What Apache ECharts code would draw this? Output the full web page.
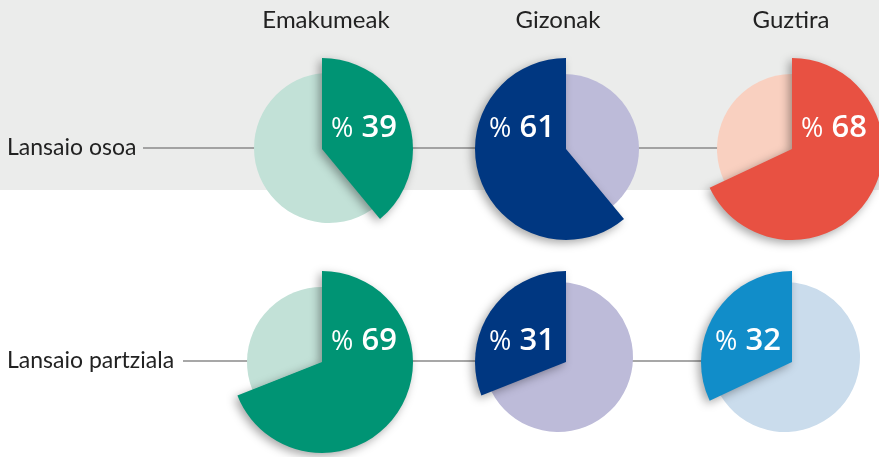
<!DOCTYPE html>
<html>
<head>
<meta charset="utf-8">
<script src="https://cdn.jsdelivr.net/npm/echarts@6/dist/echarts.min.js"></script>
<style>
  html, body { margin: 0; padding: 0; background: #fff; }
  #chart { width: 879px; height: 457px; }
</style>
</head>
<body>
<div id="chart"></div>
<script>
var groups = ["Emakumeak", "Gizonak", "Guztira"];
var rowLabels = ["Lansaio osoa", "Lansaio partziala"];
var lansaioOsoa = [39, 61, 68];
var lansaioPartziala = [69, 31, 32];
// which way the highlighted slice runs from 12 o'clock
var clockwiseOsoa = [true, false, true];
var clockwisePartziala = [true, false, false];

var darkColors = [["#009474", "#003781", "#e85142"], ["#009474", "#003781", "#118dc9"]];
var lightColors = [["#c2e1d7", "#bdbbd9", "#f9d0c0"], ["#c2e1d7", "#bdbbd9", "#cadcec"]];

// layout
var colX = [322, 566, 792];
var rowY = [149, 362];
var headerX = [326, 558, 791];
// the pale disc is not exactly under the slice tip
var lightShift = [[[7, -1], [-2, 0], [0, 0]], [[0, 0], [-8, -5], [-7, -5]]];
var fontFam = "Lato, 'Open Sans', sans-serif";
var labelFam = "'Open Sans', Lato, sans-serif";

document.addEventListener("DOMContentLoaded", function () {
  var chart = echarts.init(document.getElementById("chart"));
  var rows = [lansaioOsoa, lansaioPartziala];
  var dirs = [clockwiseOsoa, clockwisePartziala];
  var series = [];

  rows.forEach(function (vals, r) {
    vals.forEach(function (v, c) {
      var cw = dirs[r][c];
      var center = [colX[c], rowY[r]];
      var sh = lightShift[r][c];
      // pale full disc underneath
      series.push({
        type: "pie",
        silent: true,
        center: [center[0] + sh[0], center[1] + sh[1]],
        radius: [0, 75],
        startAngle: 90,
        clockwise: cw,
        z: 1,
        label: { show: false },
        labelLine: { show: false },
        data: [
          { value: v, itemStyle: { color: lightColors[r][c] } },
          { value: 100 - v, itemStyle: { color: lightColors[r][c] } }
        ]
      });
      // highlighted share, bigger radius
      var lx = center[0] + (cw ? 42 : -44);
      var ly = center[1] - 21;
      series.push({
        type: "pie",
        silent: true,
        center: center,
        radius: [0, 91],
        startAngle: 90,
        clockwise: cw,
        z: 2,
        labelLine: { show: false },
        labelLayout: function () {
          return { x: lx, y: ly, align: "center", verticalAlign: "middle" };
        },
        data: [
          {
            value: v,
            itemStyle: {
              color: darkColors[r][c],
              shadowBlur: 10,
              shadowColor: "rgba(0,0,0,0.35)",
              shadowOffsetX: -3,
              shadowOffsetY: 3
            },
            label: {
              show: true,
              position: "inside",
              fontSize: 30,
              formatter: "{p|%}{v|" + v + "}",
              rich: {
                p: { fontFamily: labelFam, fontSize: 27, color: "#fff", padding: [2, 8, 0, 0] },
                v: { fontFamily: labelFam, fontSize: 31, fontWeight: 600, color: "#fff" }
              }
            }
          },
          { value: 100 - v, itemStyle: { color: "transparent" }, label: { show: false } }
        ]
      });
    });
  });

  var graphic = [
    { type: "rect", z: -10, shape: { x: 0, y: 0, width: 879, height: 190 }, style: { fill: "#ebeceb" } }
  ];
  var lineStart = [143, 183];
  rowLabels.forEach(function (name, r) {
    graphic.push({
      type: "text", z: 5, x: 7, y: rowY[r] - 1,
      style: { text: name, font: "23px " + fontFam, fill: "#222", textVerticalAlign: "middle" }
    });
    graphic.push({
      type: "line", z: -5,
      shape: { x1: lineStart[r], y1: rowY[r] - 1, x2: colX[2], y2: rowY[r] - 1 },
      style: { stroke: "#8a8a8a", lineWidth: 1.5 }
    });
  });
  groups.forEach(function (g, c) {
    graphic.push({
      type: "text", z: 5, x: headerX[c], y: 20,
      style: { text: g, font: "24px " + fontFam, fill: "#222", textAlign: "center", textVerticalAlign: "middle" }
    });
  });

  chart.setOption({
    animation: false,
    graphic: graphic,
    series: series
  });
});
</script>
</body>
</html>
